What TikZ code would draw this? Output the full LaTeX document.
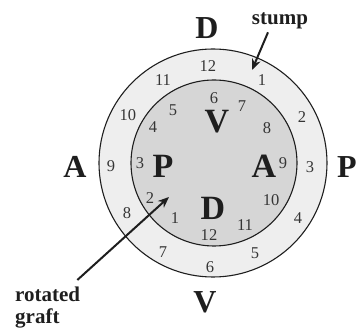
\documentclass[tikz,border=0pt]{standalone}
\usepackage{fontspec}
\setmainfont{Liberation Serif}
\usetikzlibrary{arrows.meta, positioning}
\definecolor{RingGray}{HTML}{EEEEEE}
\definecolor{DiskGray}{HTML}{D6D6D6}
\definecolor{InkGray}{HTML}{1E1E1E}

\begin{document}
\begin{tikzpicture}[
  x=1pt, y=1pt,
  axis/.style={font=\fontsize{32}{32}\selectfont\bfseries, text=InkGray, inner sep=0pt},
  graftaxis/.style={font=\fontsize{34}{34}\selectfont\bfseries, text=InkGray, inner sep=0pt},
  hour/.style={font=\fontsize{16.5}{16.5}\selectfont, text=InkGray!90, inner sep=0pt},
  lbl/.style={font=\fontsize{21}{22}\selectfont\bfseries, text=InkGray, inner sep=0pt, align=left},
  arrow/.style={-{Stealth[length=11pt, width=9pt]}, line width=2pt, InkGray}
]
  \useasboundingbox (-213,-171) rectangle (143,163);

  % stump ring and graft disk
  \filldraw[fill=RingGray, draw=InkGray, line width=1.1pt] (0,0) circle (114);
  \filldraw[fill=DiskGray, draw=InkGray, line width=1.1pt] (1,0) circle (83);

  % clock positions of the stump
  \foreach \h/\x/\y in {12/-5/97, 1/49/83, 2/89/46, 3/97/-4, 4/85/-55, 5/42/-90,
                        6/-3/-104, 7/-50/-89, 8/-86/-50, 9/-102/-3, 10/-85/48, 11/-50/83}
    \node[hour] (out\h) at (\x,\y) {\h};

  % clock positions of the graft, turned by 180 degrees
  \foreach \h/\x/\y in {12/-4/-72, 1/-38/-55, 2/-63/-35, 3/-73/0, 4/-60/36, 5/-40/53,
                        6/1/65, 7/29/57, 8/54/35, 9/70/0, 10/58/-37, 11/32/-62}
    \node[hour] (in\h) at (\x,\y) {\h};

  % axes of the stump
  \node[axis] (dOut) at (-6,135) {D};
  \node[axis] (aOut) at (-138,-4) {A};
  \node[axis] (pOut) at (134,-4) {P};
  \node[axis] (vOut) at (-8,-139) {V};

  % axes of the graft
  \node[graftaxis] (vIn) at (4,41) {V};
  \node[graftaxis] (pIn) at (-50,-3) {P};
  \node[graftaxis] (aIn) at (51,-3) {A};
  \node[graftaxis] (dIn) at (0,-45) {D};

  % labels and pointers
  \node[lbl] (stump) at (67,142) {stump};
  \node[lbl, anchor=north west] (graft) at (-198,-124) {rotated\\graft};
  \coordinate (stumpTip) at (39,93);
  \coordinate (graftTip) at (-44,-34);
  \draw[arrow] ([xshift=-12pt,yshift=-3pt]stump.south) -- (stumpTip);
  \draw[arrow] ([shift={(-3,7)}]graft.north east) -- (graftTip);
\end{tikzpicture}
\end{document}
